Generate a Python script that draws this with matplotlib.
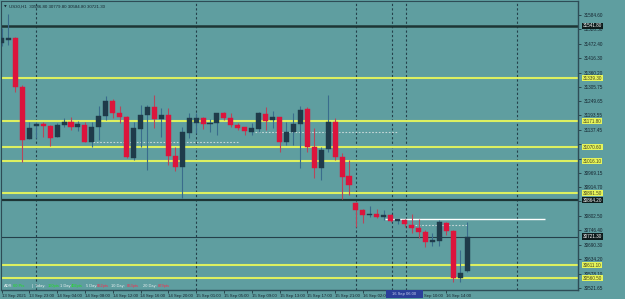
import matplotlib
matplotlib.use("Agg")
import matplotlib.pyplot as plt
from matplotlib.transforms import blended_transform_factory
import numpy as np

# ---------------- data ----------------
opens = [31475.6, 31489.2, 31495.0, 31304.2, 31101.7, 31154.3, 31160.1, 31152.4, 31109.5, 31156.2,
         31167.9, 31148.5, 31156.2, 31090.1, 31148.5, 31191.3, 31249.7, 31203.0, 31187.4, 31027.7,
         31140.7, 31195.2, 31226.3, 31179.6, 31195.2, 31035.5, 30992.7, 31125.1, 31164.0, 31183.5,
         31160.1, 31164.0, 31203.0, 31183.5, 31156.2, 31148.5, 31129.0, 31140.7, 31199.1, 31175.7,
         31187.4, 31090.1, 31129.0, 31160.1, 31218.6, 31070.6, 30988.8, 31062.8, 31167.9, 31031.6,
         30957.7, 30852.5, 30825.3, 30807.7, 30809.7, 30798.0, 30805.8, 30784.4, 30786.3, 30766.8,
         30755.2, 30739.6, 30702.6, 30704.5, 30774.6, 30743.5, 30560.5, 30586.8]
highs = [31534.0, 31588.5, 31498.9, 31312.0, 31167.9, 31167.9, 31167.9, 31156.2, 31164.0, 31183.5,
         31187.4, 31171.8, 31167.9, 31167.9, 31230.2, 31269.2, 31257.5, 31230.2, 31191.3, 31167.9,
         31234.1, 31234.1, 31273.1, 31222.4, 31222.4, 31070.6, 31148.5, 31203.0, 31203.0, 31187.4,
         31179.6, 31203.0, 31206.9, 31203.0, 31164.0, 31148.5, 31164.0, 31206.9, 31226.3, 31210.8,
         31187.4, 31167.9, 31203.0, 31230.2, 31226.3, 31144.6, 31070.6, 31273.1, 31183.5, 31047.2,
         31020.0, 30856.4, 30829.2, 30840.8, 30829.2, 30825.3, 30809.7, 30790.2, 30790.2, 30809.7,
         30790.2, 30747.4, 30735.7, 30786.3, 30778.5, 30747.4, 30669.5, 30779.8]
lows = [31463.9, 31467.8, 31284.8, 31012.2, 31101.7, 31105.6, 31109.5, 31074.5, 31109.5, 31148.5,
        31136.8, 31132.9, 31090.1, 31070.6, 31097.8, 31175.7, 31183.5, 31164.0, 31027.7, 31020.0,
        31070.6, 30981.0, 31144.6, 31109.5, 31000.5, 30977.1, 30872.0, 31105.6, 31125.1, 31140.7,
        31129.0, 31117.3, 31175.7, 31148.5, 31136.8, 31117.3, 31117.3, 31129.0, 31136.8, 31144.6,
        31051.1, 31078.4, 31078.4, 30988.8, 31051.1, 30949.9, 30942.1, 31051.1, 31020.0, 30868.1,
        30883.7, 30759.1, 30774.6, 30798.0, 30794.1, 30786.3, 30778.5, 30770.7, 30759.1, 30735.7,
        30716.2, 30681.2, 30685.1, 30685.1, 30727.9, 30544.9, 30544.9, 30584.8]
closes = [31495.0, 31495.0, 31304.2, 31097.8, 31144.6, 31158.2, 31152.4, 31105.6, 31156.2, 31167.9,
          31148.5, 31160.1, 31090.1, 31148.5, 31191.3, 31249.7, 31203.0, 31187.4, 31031.6, 31144.6,
          31195.2, 31226.3, 31179.6, 31195.2, 31035.5, 30992.7, 31129.0, 31183.5, 31183.5, 31160.1,
          31164.0, 31203.0, 31183.5, 31156.2, 31144.6, 31132.9, 31144.6, 31203.0, 31171.8, 31187.4,
          31090.1, 31129.0, 31160.1, 31214.7, 31070.6, 30988.8, 31058.9, 31167.9, 31031.6, 30953.8,
          30922.6, 30825.3, 30805.8, 30811.6, 30798.0, 30805.8, 30782.4, 30788.3, 30770.7, 30755.2,
          30739.6, 30700.7, 30706.5, 30778.5, 30743.5, 30560.5, 30579.9, 30721.3]

yticks = [31584.60, 31528.50, 31472.40, 31416.30, 31360.20, 31305.75, 31249.65, 31193.55,
          31137.45, 31081.35, 31025.25, 30969.15, 30914.70, 30858.60, 30802.50, 30746.40,
          30690.30, 30634.20, 30578.10, 30521.65]
# tick labels hidden under the level boxes in the reference
hidden_ticks = [31081.35, 31025.25, 30858.60]

xtick_bars = [0, 4, 8, 12, 16, 20, 24, 28, 32, 36, 40, 44, 48, 52, 56, 60, 64]
xtick_labels = ["13 Sep 2021", "13 Sep 23:00", "14 Sep 04:00", "14 Sep 08:00", "14 Sep 12:00",
                "14 Sep 16:00", "14 Sep 20:00", "15 Sep 01:00", "15 Sep 05:00", "15 Sep 09:00",
                "15 Sep 13:00", "15 Sep 17:00", "15 Sep 21:00", "16 Sep 02:00", "",
                "16 Sep 10:00", "16 Sep 14:00"]

yellow_levels = [31339.3, 31171.8, 31070.6, 31016.1, 30891.5, 30611.1, 30560.5]
dark_levels = [31541.8, 30864.2]
bid_level = 30721.3
white_level = 30792.0
dotted_levels = [(31090.1, 13.2, 34.0), (31129.0, 36.5, 56.9), (30766.8, 59.5, 67.0)]
vlines_bars = [5, 28, 51, 56.2, 58.2, 74.2]

adr_parts = [("ADR:", "w"), ("60 Pts", "g"), ("|", "w"), ("Today:", "w"), ("160pts", "g"),
             ("1 Day:", "w"), ("402pts", "g"), ("5 Day:", "w"), ("862pts", "r"),
             ("10 Day:", "w"), ("863pts", "r"), ("20 Day:", "w"), ("879pts", "r")]
adr_x = [4, 13, 32, 35, 48, 60, 71, 86, 97, 111, 127, 143, 158]

# ---------------- style ----------------
BG = "#5F9EA0"
BULL = "#1F3B4A"
BULL_WICK = "#3A6C8C"
BEAR = "#DC143C"
BEAR_WICK = "#B8455A"
YEL = "#DDF060"
DARK = "#1D3535"
TXT = "#15242E"
FONT = "Liberation Sans"

W, H = 625, 299
fig = plt.figure(figsize=(W / 100, H / 100), dpi=100, facecolor=BG)
ax = fig.add_axes([1 / W, 9 / H, 577 / W, 289 / H], facecolor=BG)

ppx = (31584.60 - 30521.65) / 273.0   # price per pixel
ymax = 31584.60 + 14 * ppx
ymin = 31584.60 - 275 * ppx
ax.set_ylim(ymin, ymax)
bar_px = 6.95
ax.set_xlim(-0.5 / bar_px, 576.5 / bar_px)

n = len(opens)
idx = np.arange(n)
o = np.array(opens); h = np.array(highs); l = np.array(lows); c = np.array(closes)
up = c >= o

# grid-like elements
for b in vlines_bars:
    ax.axvline(b, color="#24404A", lw=0.8, ls=(0, (2, 2)), zorder=1)
for lvl in yellow_levels:
    ax.axhline(lvl, color=YEL, lw=1.5, zorder=2)
ax.axhline(dark_levels[0], color=DARK, lw=1.8, zorder=2)
ax.axhline(dark_levels[1], color=DARK, lw=1.6, zorder=2)
ax.axhline(bid_level, color="#24404A", lw=0.8, zorder=2)
ax.hlines(white_level, 55.2, 78.2, color="white", lw=1.0, zorder=3)
for lvl, x0, x1 in dotted_levels:
    ax.hlines(lvl, x0, x1, color="#C8D8D8", lw=0.8, ls=(0, (1.5, 1.5)), zorder=3)

# candles
ax.vlines(idx[up], l[up], h[up], color=BULL_WICK, lw=0.8, zorder=4)
ax.vlines(idx[~up], l[~up], h[~up], color=BEAR_WICK, lw=0.8, zorder=4)
body_lo = np.minimum(o, c)
body_h = np.maximum(np.abs(c - o), 4.0)
ax.bar(idx[up], body_h[up], bottom=body_lo[up], width=0.72, color=BULL, edgecolor=BULL,
       linewidth=0.3, zorder=5)
ax.bar(idx[~up], body_h[~up], bottom=body_lo[~up], width=0.72, color=BEAR, edgecolor=BEAR,
       linewidth=0.3, zorder=5)

# spines
for s in ["left", "top"]:
    ax.spines[s].set_color("#2E4C56"); ax.spines[s].set_linewidth(0.8)
ax.spines["right"].set_color("#2E4C56"); ax.spines["right"].set_linewidth(1.0)
ax.spines["bottom"].set_color("#2E4C56"); ax.spines["bottom"].set_linewidth(1.0)

# y axis on the right
ax.yaxis.tick_right()
ax.set_yticks(yticks)
ax.set_yticklabels(["" if v in hidden_ticks else f"{v:.2f}" for v in yticks])
ax.tick_params(axis="y", length=2.5, width=0.5, pad=1.5, colors=TXT, labelsize=3.3)
for t in ax.get_yticklabels():
    t.set_fontfamily(FONT)

# x axis
ax.set_xticks(xtick_bars)
ax.set_xticklabels(xtick_labels, ha="left")
ax.tick_params(axis="x", length=2, width=0.5, pad=1.0, colors=TXT, labelsize=3.1)
for t in ax.get_xticklabels():
    t.set_fontfamily(FONT)

# price labels on right axis
tr = blended_transform_factory(ax.transAxes, ax.transData)
for lvl in yellow_levels:
    ax.text(1.008, lvl, f"{lvl:.2f}", transform=tr, fontsize=3.3, family=FONT, color="#404020",
            va="center", ha="left", clip_on=False, zorder=10,
            bbox=dict(boxstyle="square,pad=0.18", fc="#E6F55A", ec="none"))
for lvl in dark_levels + [bid_level]:
    ax.text(1.008, lvl, f"{lvl:.2f}", transform=tr, fontsize=3.3, family=FONT, color="white",
            va="center", ha="left", clip_on=False, zorder=10,
            bbox=dict(boxstyle="square,pad=0.18", fc="#0E1C1C", ec="none"))

# header
fig.text(4 / W, 1 - 6.5 / H, "\u25BC", fontsize=2.5, color=TXT, va="center", ha="left")
fig.text(9 / W, 1 - 6.5 / H,
         f"US30,H1  {opens[-1]:.2f} {highs[-1]:.2f} {lows[-1]:.2f} {closes[-1]:.2f}",
         fontsize=3.2, family=FONT, color=TXT, va="center", ha="left")

# ADR info line
cmap = {"w": "#E8F0F0", "g": "#22E022", "r": "#FF2A4A"}
for (txt, col), xp in zip(adr_parts, adr_x):
    fig.text(xp / W, 1 - 286 / H, txt, fontsize=2.9, family=FONT, color=cmap[col],
             va="center", ha="left")

# crosshair date box on x axis
fig.patches.append(plt.Rectangle((386 / W, 1 - 298 / H), 37 / W, 8 / H, transform=fig.transFigure,
                                 fc="#2B3F9A", ec="none", zorder=20))
fig.text(404.5 / W, 1 - 294 / H, "16 Sep 06:00", fontsize=3.0, family=FONT,
         color="#C8D0F0", va="center", ha="center", zorder=21)

fig.savefig("out.png", dpi=100, facecolor=BG)
